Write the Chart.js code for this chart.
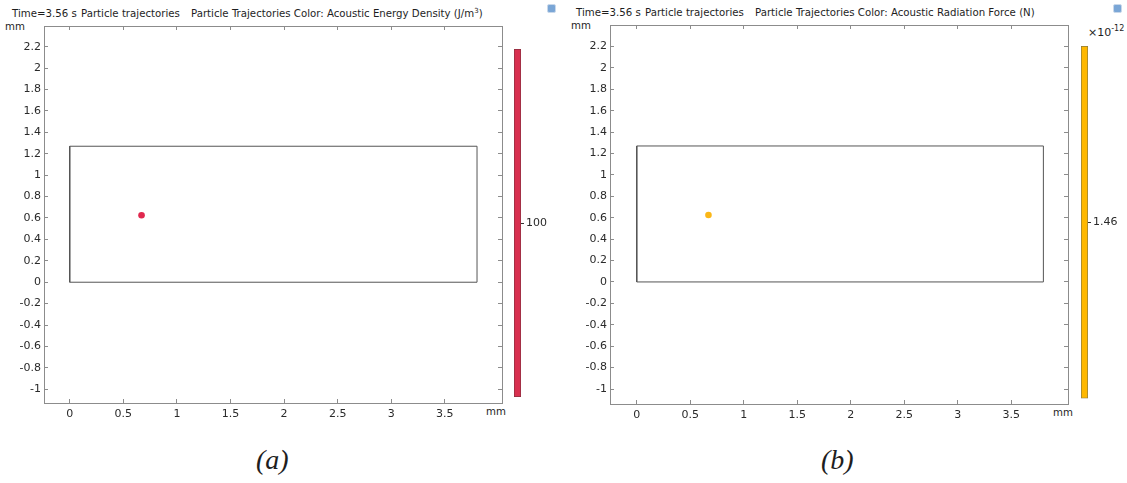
<!DOCTYPE html>
<html lang="en">
<head>
  <meta charset="UTF-8">
  <title>Particle trajectories</title>
  <script src="https://cdn.jsdelivr.net/npm/chart.js"></script>
  <style>
    body { margin: 0; background: #fff; width: 1127px; height: 483px; position: relative; overflow: hidden; font-family: "DejaVu Sans", sans-serif; color: #1e1e1e; }
    canvas { position: absolute; }
    .txt { position: absolute; white-space: pre; font-size: 10.2px; line-height: 12px; }
    .txt sup { font-size: 7px; line-height: 0; }
    .exp { font-size: 11px; }
    .exp sup { font-size: 8px; }
    .cap { position: absolute; font-family: "Liberation Serif", serif; font-style: italic; font-size: 28px; }
    .icon { position: absolute; width: 7px; height: 7px; border-radius: 2px; background: #7aa6d6; border: 1px solid #c9d8ea; }
  </style>
</head>
<body>
  <div class="txt" style="left:12px;top:8px">Time=3.56 s</div>
  <div class="txt" style="left:81px;top:8px">Particle trajectories</div>
  <div class="txt" style="left:191px;top:8px">Particle Trajectories Color: Acoustic Energy Density (J/m<sup>3</sup>)</div>
  <div class="txt" style="left:5px;top:21px">mm</div>
  <div class="txt" style="left:486px;top:406px">mm</div>
  <div class="icon" style="left:547px;top:4px"></div>

  <div class="txt" style="left:576px;top:7px">Time=3.56 s</div>
  <div class="txt" style="left:645px;top:7px">Particle trajectories</div>
  <div class="txt" style="left:755px;top:7px">Particle Trajectories Color: Acoustic Radiation Force (N)</div>
  <div class="txt" style="left:571px;top:20px">mm</div>
  <div class="txt" style="left:1053px;top:407px">mm</div>
  <div class="txt exp" style="left:1088px;top:27px">×10<sup>-12</sup></div>
  <div class="icon" style="left:1113px;top:4px"></div>

  <div class="cap" style="left:256px;top:444px">(a)</div>
  <div class="cap" style="left:821px;top:444px">(b)</div>

  <canvas id="plotA" width="506" height="430" style="left:0;top:0"></canvas>
  <canvas id="barA" width="60" height="370" style="left:505px;top:40px"></canvas>
  <canvas id="plotB" width="506" height="430" style="left:566px;top:0"></canvas>
  <canvas id="barB" width="55" height="370" style="left:1072px;top:37px"></canvas>

  <script>
    // geometry outline (mm)
    const boxX = [0, 3.8, 3.8, 0, 0];
    const boxY = [0, 0, 1.27, 1.27, 0];
    // particle position at t = 3.56 s (mm)
    const particleX = [0.67];
    const particleY = [0.625];

    const xTicks = [0, 0.5, 1, 1.5, 2, 2.5, 3, 3.5];
    const yTicks = [-1, -0.8, -0.6, -0.4, -0.2, 0, 0.2, 0.4, 0.6, 0.8, 1, 1.2, 1.4, 1.6, 1.8, 2, 2.2];

    // colour legend: value and range of each quantity
    const energyDensity = [100];          // J/m^3
    const energyRange = [99, 101];
    const radiationForce = [1.46];        // x1e-12 N
    const forceRange = [1.455, 1.465];

    const AXIS = '#8c8c8c';
    const FONT = { family: 'DejaVu Sans', size: 11 };

    Chart.defaults.color = '#2a2a2a';
    Chart.defaults.font = FONT;

    const fmt = v => String(+Number(v).toFixed(2));

    function axis(pos, ticksArr, min, max, size, labels) {
      const horiz = pos === 'top' || pos === 'bottom';
      return {
        type: 'linear',
        position: pos,
        axis: horiz ? 'x' : 'y',
        min: min,
        max: max,
        afterBuildTicks: s => { s.ticks = ticksArr.map(v => ({ value: v })); },
        afterFit: s => { if (horiz) s.height = size; else s.width = size; },
        border: { display: true, color: AXIS, width: 1 },
        grid: { display: true, drawOnChartArea: false, drawTicks: true, tickLength: -4, color: AXIS },
        ticks: { display: labels, padding: horiz ? 9 : 7, callback: fmt, maxRotation: 0, autoSkip: false }
      };
    }

    function makePlot(id, color, xr, yr, top, bottom) {
      new Chart(document.getElementById(id), {
        type: 'scatter',
        data: {
          datasets: [
            {
              type: 'line',
              data: boxX.map((x, i) => ({ x: x, y: boxY[i] })),
              borderColor: '#555',
              borderWidth: 1,
              pointRadius: 0,
              fill: false,
              tension: 0
            },
            {
              data: particleX.map((x, i) => ({ x: x, y: particleY[i] })),
              backgroundColor: color,
              borderWidth: 0,
              pointRadius: 3.3
            }
          ]
        },
        options: {
          responsive: false,
          animation: false,
          layout: { padding: 0 },
          plugins: { legend: { display: false }, tooltip: { enabled: false } },
          scales: {
            x: axis('bottom', xTicks, xr[0], xr[1], bottom, true),
            x2: axis('top', xTicks, xr[0], xr[1], top, false),
            y: axis('left', yTicks, yr[0], yr[1], 44, true),
            y2: axis('right', yTicks, yr[0], yr[1], 3, false)
          }
        }
      });
    }

    function makeColorBar(id, range, value, color, edge, pad) {
      new Chart(document.getElementById(id), {
        type: 'bar',
        data: {
          labels: [''],
          datasets: [{
            data: [range],
            backgroundColor: color,
            borderColor: edge,
            borderWidth: 1,
            borderSkipped: false,
            barPercentage: 1,
            categoryPercentage: 1
          }]
        },
        options: {
          responsive: false,
          animation: false,
          layout: { padding: pad },
          plugins: { legend: { display: false }, tooltip: { enabled: false } },
          scales: {
            x: { display: false },
            y: {
              position: 'right',
              min: range[0],
              max: range[1],
              afterBuildTicks: s => { s.ticks = value.map(v => ({ value: v })); },
              afterFit: s => { s.width = 30; },
              border: { display: false },
              grid: { drawOnChartArea: true, drawTicks: true, tickLength: 3, color: '#333', borderDash: [1, 2] },
              ticks: { padding: 2, callback: fmt }
            }
          }
        }
      });
    }

    makePlot('plotA', '#e0284e', [-0.24, 4.033], [-1.128, 2.393], 26, 27);
    makePlot('plotB', '#fbb717', [-0.25, 4.03], [-1.14, 2.40], 25, 26);

    makeColorBar('barA', energyRange, energyDensity, '#d8304f', '#8a3040', { left: 9, top: 9, bottom: 13, right: 14 });
    makeColorBar('barB', forceRange, radiationForce, '#ffb800', '#8a7a40', { left: 9, top: 9, bottom: 8, right: 9 });
  </script>
</body>
</html>
